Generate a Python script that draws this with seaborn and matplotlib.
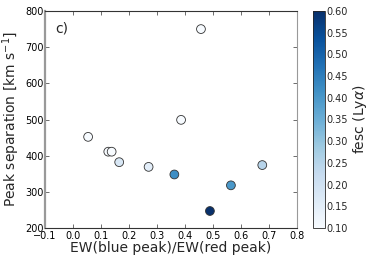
import numpy as np
import pandas as pd
import matplotlib
matplotlib.use("Agg")
import matplotlib.pyplot as plt
import seaborn as sns

# values
ew_ratio = [0.054, 0.126, 0.138, 0.165, 0.270, 0.362, 0.489, 0.564, 0.676, 0.386, 0.457]
peak_sep = [452, 411, 411, 382, 369, 348, 247, 318, 374, 499, 750]
fesc = [0.10, 0.10, 0.10, 0.18, 0.15, 0.42, 0.60, 0.40, 0.25, 0.10, 0.10]

df = pd.DataFrame({"ew": ew_ratio, "sep": peak_sep, "fesc": fesc})

sns.set_style("white")
plt.rcParams["font.family"] = ["DejaVu Sans"]

fig = plt.figure(figsize=(3.74, 2.62), dpi=100)
ax = fig.add_axes([45 / 374, 1 - 228 / 262, 252 / 374, 217 / 262])
cax = fig.add_axes([313 / 374, 1 - 228 / 262, 12 / 374, 217 / 262])

norm = plt.Normalize(0.1, 0.6)
sns.scatterplot(data=df, x="ew", y="sep", hue="fesc", palette="Blues", hue_norm=norm,
                s=40, edgecolor="#333333", linewidth=0.6, legend=False, ax=ax, zorder=3)

ax.set_xlim(-0.1, 0.8)
ax.set_ylim(200, 800)
ax.set_xticks(np.arange(-0.1, 0.81, 0.1))
ax.set_yticks(np.arange(200, 801, 100))
ax.set_xticklabels([f"{t:.1f}".replace("-", "\u2212") for t in np.arange(-0.1, 0.81, 0.1)])
ax.tick_params(direction="in", length=3, width=0.6, labelsize=7, pad=1,
               top=True, right=True, bottom=True, left=True, colors="#555555", labelcolor="black")
ax.tick_params(axis="x", pad=2.5)
ax.set_xlabel("EW(blue peak)/EW(red peak)", fontsize=10, labelpad=0)
ax.set_ylabel("Peak separation [km s$^{-1}$]", fontsize=10, labelpad=2)
ax.text(0.04, 0.9, "c)", transform=ax.transAxes, fontsize=10)

for side in ["top", "bottom", "right"]:
    ax.spines[side].set_color("#333333")
    ax.spines[side].set_linewidth(0.8)
ax.spines["right"].set_color("#999999")
ax.spines["left"].set_color("#999999")
ax.spines["left"].set_linewidth(1.6)

sm = plt.cm.ScalarMappable(cmap="Blues", norm=norm)
cb = fig.colorbar(sm, cax=cax, ticks=np.arange(0.10, 0.601, 0.05))
cb.ax.set_yticklabels([f"{t:.2f}" for t in np.arange(0.10, 0.601, 0.05)])
cb.ax.tick_params(labelsize=7, length=0, pad=1)
cb.outline.set_linewidth(0.6)
cb.set_label(r"fesc (Ly$\alpha$)", fontsize=10, labelpad=2)

fig.savefig("out.png", dpi=100)
